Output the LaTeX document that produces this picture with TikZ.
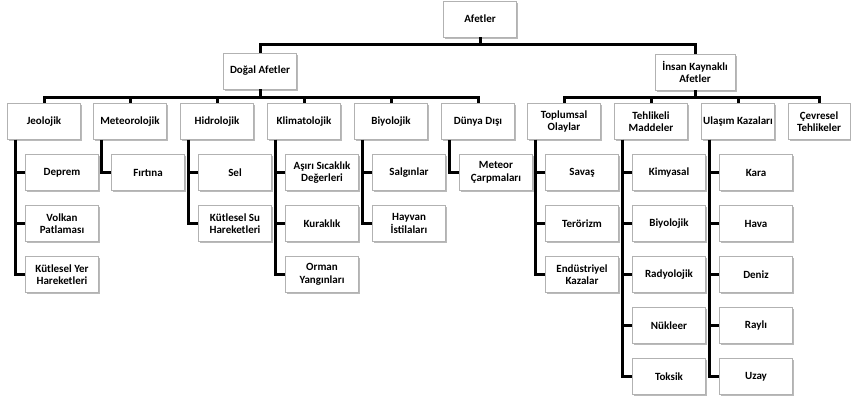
\documentclass[tikz,border=0pt]{standalone}
\usepackage{fontspec}
\setmainfont{Carlito}
\usetikzlibrary{shadows}
\tikzset{
  kutu/.style={draw=black!30, fill=white, line width=.6pt, minimum width=73pt, minimum height=36pt,
    inner sep=1pt, align=center, font=\bfseries\fontsize{11}{12.5}\selectfont,
    drop shadow={shadow xshift=1.5pt, shadow yshift=-1.5pt, fill=black!60, opacity=.45}},
  hat/.style={line width=3pt, black}
}
\begin{document}
\begin{tikzpicture}[x=1pt,y=-1pt]
  \useasboundingbox (0,0) rectangle (851,400);
  % ust duzey
  \node[kutu] (afet) at (480,19) {Afetler};
  \node[kutu] (dogal) at (260,71) {Doğal Afetler};
  \node[kutu, minimum width=80pt] (insan) at (695,72) {İnsan Kaynaklı\\Afetler};
  % ikinci duzey
  \node[kutu] (jeo) at (44,121.5) {Jeolojik};
  \node[kutu] (met) at (130,121.5) {Meteorolojik};
  \node[kutu] (hid) at (217,121.5) {Hidrolojik};
  \node[kutu] (kli) at (304,121.5) {Klimatolojik};
  \node[kutu] (biy) at (391,121.5) {Biyolojik};
  \node[kutu] (dis) at (478,121.5) {Dünya Dışı};
  \node[kutu] (top) at (564,121.5) {Toplumsal\\Olaylar};
  \node[kutu] (teh) at (651,121.5) {Tehlikeli\\Maddeler};
  \node[kutu] (ula) at (738,121.5) {Ulaşım Kazaları};
  \node[kutu, minimum width=62pt] (cev) at (819,121.5) {Çevresel\\Tehlikeler};
  % baglantilar
  \coordinate (k0) at ([yshift=-7pt]afet.south);
  \draw[hat] (afet.south) -- (k0);
  \draw[hat] (dogal.north) |- (k0) -| (insan.north);
  \coordinate (k1) at ([yshift=-8pt]dogal.south);
  \coordinate (k2) at ([yshift=-7pt]insan.south);
  \draw[hat] (dogal.south) -- (k1);
  \draw[hat] (insan.south) -- (k2);
  \foreach \n in {jeo,met,hid,kli,biy,dis}
    \draw[hat] (k1) -| (\n.north);
  \foreach \n in {top,teh,ula,cev}
    \draw[hat] (k2) -| (\n.north);
  % alt duzey
  \foreach \p/\adlar in {jeo/{Deprem,{Volkan\\Patlaması},{Kütlesel Yer\\Hareketleri}},
      met/{Fırtına},
      hid/{Sel,{Kütlesel Su\\Hareketleri}},
      kli/{{Aşırı Sıcaklık\\Değerleri},Kuraklık,{Orman\\Yangınları}},
      biy/{Salgınlar,{Hayvan\\İstilaları}},
      dis/{{Meteor\\Çarpmaları}},
      top/{Savaş,Terörizm,{Endüstriyel\\Kazalar}},
      teh/{Kimyasal,Biyolojik,Radyolojik,Nükleer,Toksik},
      ula/{Kara,Hava,Deniz,Raylı,Uzay}}
    \foreach \ad [count=\i] in \adlar {
      \node[kutu] (\p\i) at ([xshift=18pt,yshift=-51*\i]\p.center) {\ad};
      \draw[hat] ([xshift=8pt]\p.south west) |- (\p\i.west);
    }
\end{tikzpicture}
\end{document}
